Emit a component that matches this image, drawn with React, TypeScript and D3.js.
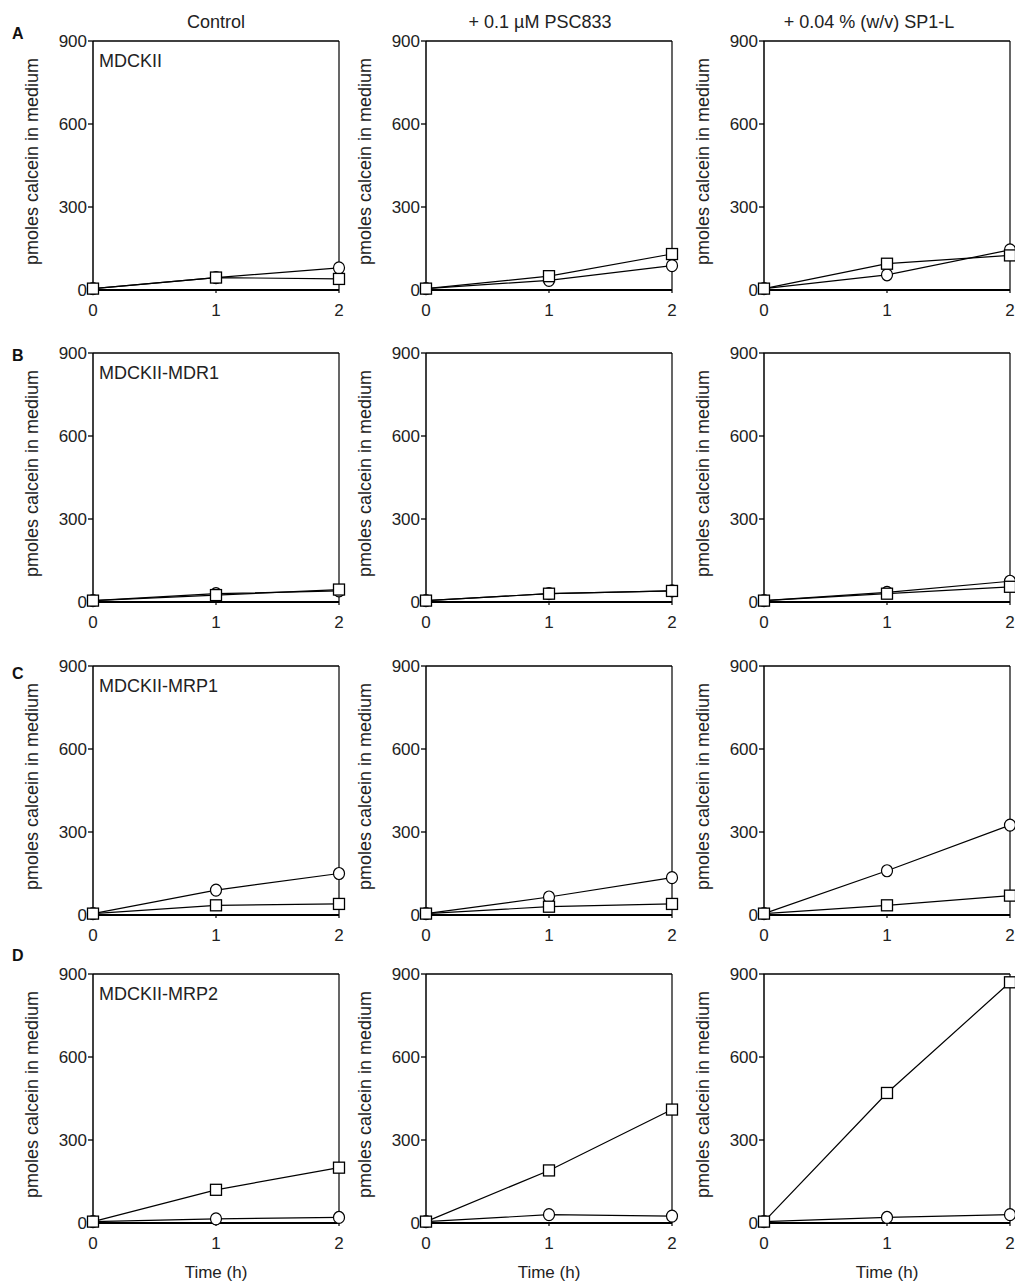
import React from "react";
import * as d3 from "d3";

const rowNames = ["MDCKII", "MDCKII-MDR1", "MDCKII-MRP1", "MDCKII-MRP2"];
const rowLetters = ["A", "B", "C", "D"];
const conditions = ["Control", "+ 0.1 \u00b5M PSC833", "+ 0.04 % (w/v) SP1-L"];
const times = [0, 1, 2];
const yTicks = [0, 300, 600, 900];
const xTicks = [0, 1, 2];

// circle series, [row][condition][time]
const circleMDCKII = [[5, 45, 80], [5, 35, 88], [5, 55, 145]];
const circleMDR1 = [[5, 30, 40], [5, 30, 40], [5, 35, 75]];
const circleMRP1 = [[5, 90, 150], [5, 65, 135], [5, 160, 325]];
const circleMRP2 = [[5, 15, 20], [5, 30, 25], [5, 20, 30]];
// square series
const squareMDCKII = [[5, 45, 40], [5, 50, 130], [5, 95, 125]];
const squareMDR1 = [[5, 25, 45], [5, 30, 40], [5, 30, 55]];
const squareMRP1 = [[5, 35, 40], [5, 30, 40], [5, 35, 70]];
const squareMRP2 = [[5, 120, 200], [5, 190, 410], [5, 470, 870]];

const circleData = [circleMDCKII, circleMDR1, circleMRP1, circleMRP2];
const squareData = [squareMDCKII, squareMDR1, squareMRP1, squareMRP2];

// layout
const rowTops = [41, 353, 666, 974];
const plotH = 249;
const colLefts = [93, 426, 764];
const plotW = 246;
const titleShift = [0, -9, -18];
const letterBaselines = [39, 361, 679, 961];
const FONT = "'Liberation Sans', Arial, Helvetica, sans-serif";

function Panel({ r, c }: { r: number; c: number }) {
  const left = colLefts[c];
  const top = rowTops[r];
  const x = d3.scaleLinear().domain([0, 2]).range([left, left + plotW]);
  const y = d3.scaleLinear().domain([0, 900]).range([top + plotH, top]);
  const line = d3
    .line<number>()
    .x((_, i) => x(times[i]))
    .y((d) => y(d));
  const circ = circleData[r][c];
  const sq = squareData[r][c];
  const s = 11;
  return (
    <g>
      {/* frame */}
      <line x1={left} x2={left + plotW} y1={top} y2={top} stroke="#000" strokeWidth={1.3} />
      <line x1={left + plotW} x2={left + plotW} y1={top} y2={top + plotH} stroke="#000" strokeWidth={1.2} />
      <line x1={left} x2={left} y1={top} y2={top + plotH} stroke="#000" strokeWidth={1.5} />
      <line x1={left} x2={left + plotW} y1={top + plotH} y2={top + plotH} stroke="#000" strokeWidth={1.8} />
      {yTicks.map((t) => (
        <g key={"y" + t}>
          <line x1={left - 5} x2={left} y1={y(t)} y2={y(t)} stroke="#000" strokeWidth={1.3} />
          <text x={left - 6} y={y(t) + 6} textAnchor="end" fontSize={17} fontFamily={FONT} fill="#222">
            {t}
          </text>
        </g>
      ))}
      {xTicks.map((t) => (
        <g key={"x" + t}>
          <line x1={x(t)} x2={x(t)} y1={top + plotH} y2={top + plotH + 3} stroke="#000" strokeWidth={1.2} />
          <text x={x(t)} y={top + plotH + 26} textAnchor="middle" fontSize={17} fontFamily={FONT} fill="#222">
            {t}
          </text>
        </g>
      ))}
      <text
        transform={`translate(${left - 55},${top + plotH / 2 - 4}) rotate(-90)`}
        textAnchor="middle"
        fontSize={18}
        fontFamily={FONT}
        fill="#222"
      >
        pmoles calcein in medium
      </text>
      {c === 0 && (
        <text x={left + 6} y={top + 26} fontSize={18} fontFamily={FONT} fill="#222">
          {rowNames[r]}
        </text>
      )}
      <path d={line(circ) || ""} fill="none" stroke="#000" strokeWidth={1.2} />
      <path d={line(sq) || ""} fill="none" stroke="#000" strokeWidth={1.2} />
      {circ.map((v, i) => (
        <ellipse key={"c" + i} cx={x(times[i])} cy={y(v)} rx={5.5} ry={6} fill="#fff" stroke="#000" strokeWidth={1.2} />
      ))}
      {sq.map((v, i) => (
        <rect key={"s" + i} x={x(times[i]) - s / 2} y={y(v) - s / 2} width={s} height={s} fill="#fff" stroke="#000" strokeWidth={1.3} />
      ))}
      {r === 3 && (
        <text x={left + plotW / 2} y={1278} textAnchor="middle" fontSize={17} fontFamily={FONT} fill="#222">
          Time (h)
        </text>
      )}
    </g>
  );
}

export default function App() {
  return (
    <svg
      width={1015}
      height={1282}
      style={{ position: "absolute", left: 0, top: 0, background: "#fff" }}
    >
      <rect width={1015} height={1282} fill="#fff" />
      {conditions.map((cname, c) => (
        <text key={cname} x={colLefts[c] + plotW / 2 + titleShift[c]} y={28} textAnchor="middle" fontSize={18} fontFamily={FONT} fill="#222">
          {cname}
        </text>
      ))}
      {rowLetters.map((L, r) => (
        <text key={L} x={12} y={letterBaselines[r]} fontSize={16} fontWeight="bold" fontFamily={FONT} fill="#111">
          {L}
        </text>
      ))}
      {rowNames.map((_, r) =>
        conditions.map((__, c) => <Panel key={r + "-" + c} r={r} c={c} />)
      )}
    </svg>
  );
}
